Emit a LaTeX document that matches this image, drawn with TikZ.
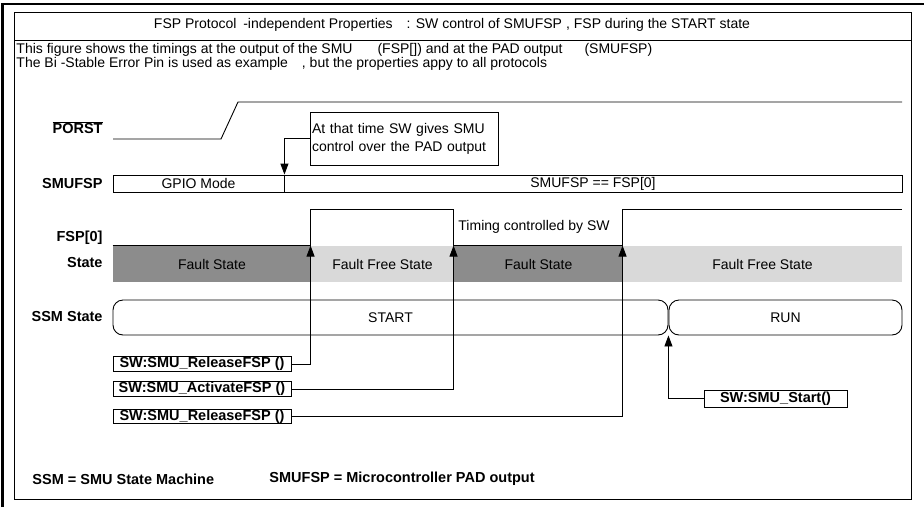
\documentclass[tikz,border=0pt]{standalone}
\usepackage{fontspec}
\setmainfont{Liberation Sans}
\usetikzlibrary{arrows.meta}
\definecolor{faultgray}{HTML}{8C8C8C}
\definecolor{freegray}{HTML}{D9D9D9}

\begin{document}
\begin{tikzpicture}[x=1pt, y=-1pt, line width=0.9pt,
  txt/.style={font=\fontsize{14}{18}\selectfont, inner sep=0pt},
  sig/.style={font=\fontsize{14.5}{16}\selectfont\bfseries, anchor=east, inner sep=0pt},
  swbox/.style={draw, font=\fontsize{14.5}{16}\selectfont\bfseries, inner sep=0pt, minimum height=14.5pt},
  arr/.style={-{Triangle[length=11pt, width=8pt]}}]
\useasboundingbox (0,0) rectangle (924,507);
% frame and header
\draw[line width=2.8pt] (2.5,507) -- (2.5,4) -- (924,4);
\draw (14,12) rectangle (911,499);
\draw (14,40) -- (911,40);
\node[txt] (title) at (452,25) {FSP Protocol \hspace{3pt}-independent Properties\hspace{14pt}: SW control of SMUFSP\hspace{4pt}, FSP during the START state};
\node[txt, anchor=west] (desc1) at (16,50) {This figure shows the timings at the output of the SMU\hspace{25pt}(FSP[]) and at the PAD output\hspace{22pt}(SMUFSP)};
\node[txt, anchor=west] (desc2) at (16,64) {The Bi -Stable Error Pin is used as example\hspace{14pt}, but the properties appy to all protocols};
% signal names
\foreach \name/\y/\txt in {porst/128/$\overline{\mbox{PORST}}$, smufsp/183.5/SMUFSP, fsp/238/FSP[0], state/263/State, ssm/317/SSM State}
  \node[sig] (\name) at (103,\y) {\txt};
% PORST
\draw (113,139) -- (221,139) -- (238,102) -- (902,102);
\node[draw, txt, minimum width=188pt, minimum height=53pt, text width=184pt, align=left, inner sep=2pt] (note) at (404,138.5) {At that time SW gives SMU\\control over the PAD output};
% SMUFSP
\node[draw, txt, minimum width=171pt, minimum height=17pt] (gpio) at (198.5,183.5) {GPIO Mode};
\node[draw, txt, minimum width=618pt, minimum height=17pt] (pad) at (593,183.5) {SMUFSP == FSP[0]};
\draw[arr] (note.west) -| (gpio.north east);
% FSP[0] and state
\foreach \n/\xa/\xb/\col/\txt in {1/113/311/faultgray/Fault State, 2/311/454/freegray/Fault Free State, 3/454/623/faultgray/Fault State, 4/623/902/freegray/Fault Free State}
  \node[fill=\col, txt, minimum width={(\xb-\xa)*1pt}, minimum height=36pt] (st\n) at ({(\xa+\xb)/2},264) {\txt};
\draw[line width=1.3pt] (st1.north west) -- (st2.north west) -- ++(0,-36) -| (st3.north west) -- (st4.north west) -- ++(0,-36) -- ++(279,0);
\node[txt, anchor=west] (timing) at (458,227) {Timing controlled by SW};
% SSM state
\node[draw, rounded corners=10pt, txt, minimum width=555pt, minimum height=35pt] (start) at (390.5,317.5) {START};
\node[draw, rounded corners=10pt, txt, minimum width=233pt, minimum height=35pt] (run) at (785.5,317.5) {RUN};
% software calls
\foreach \n/\y/\txt/\m in {1/364/SW:SMU\_ReleaseFSP ()/2, 2/389/SW:SMU\_ActivateFSP ()/3, 3/416.5/SW:SMU\_ReleaseFSP ()/4} {
  \node[swbox, minimum width=178pt] (sw\n) at (202,\y) {\txt};
  \draw[arr] (sw\n.east) -| (st\m.north west);
}
\node[swbox, minimum width=143pt, minimum height=17pt] (swstart) at (775.5,398.5) {SW:SMU\_Start()};
\draw[arr] (swstart.west) -| (start.south east);
% legend
\node[sig, anchor=west] (key1) at (32,479) {SSM = SMU State Machine};
\node[sig, anchor=west] (key2) at (269,479) {SMUFSP = Microcontroller PAD output};
\end{tikzpicture}
\end{document}
